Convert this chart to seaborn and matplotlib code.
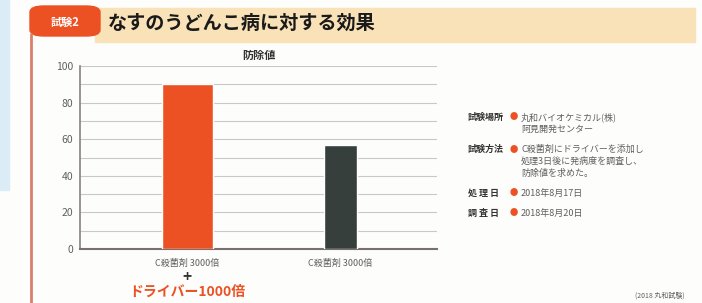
import matplotlib.pyplot as plt
import matplotlib.patches as mpatches
import matplotlib.transforms as mtransforms
import seaborn as sns
import pandas as pd

# data
treatments = ["C殺菌剤 3000倍 + ドライバー1000倍", "C殺菌剤 3000倍"]
tick_labels = ["C殺菌剤 3000倍", "C殺菌剤 3000倍"]
control_values = [90, 57]
y_ticks = [0, 20, 40, 60, 80, 100]

info_keys = ["試験場所", "試験方法", "処 理 日", "調 査 日"]
info_values = [
    ["丸和バイオケミカル(株)", "阿見開発センター"],
    ["C殺菌剤にドライバーを添加し", "処理3日後に発病度を調査し、", "防除値を求めた。"],
    ["2018年8月17日"],
    ["2018年8月20日"],
]

ORANGE = "#ec5124"
DARK = "#373f3d"
GRAY = "#5f5f5f"

sns.set_style("white")
plt.rcParams["font.family"] = ["Noto Sans CJK JP", "DejaVu Sans"]

df = pd.DataFrame({"treatment": treatments, "value": control_values})

fig = plt.figure(figsize=(7.02, 3.03), dpi=100)
fig.patch.set_facecolor("#fdfdfb")

# page decorations: blue strip, title band, orange tab and rule
W, H = 702, 303
def px(x, y, w, h):
    return (x / W, 1 - (y + h) / H), w / W, h / H

xy, w, h = px(0, 0, 9, 190)
fig.patches.append(mpatches.Rectangle(xy, w, h, transform=fig.transFigure,
                                      color="#dcecf6", zorder=0))
xy, w, h = px(95, 8, 600, 34)
fig.patches.append(mpatches.Rectangle(xy, w, h, transform=fig.transFigure,
                                      color="#f9e2b8", zorder=0))
xy, w, h = px(30, 6, 70, 30)
fig.patches.append(mpatches.FancyBboxPatch(xy, w, h, transform=fig.transFigure,
                                           boxstyle="round,pad=0,rounding_size=0.02",
                                           color=ORANGE, zorder=1))
fig.add_artist(plt.Line2D([31 / W, 31 / W], [0, 1 - 34 / H], transform=fig.transFigure,
                          color="#d9806a", lw=2))

fig.text(65 / W, 1 - 22 / H, "試験2", color="white", fontsize=8, fontweight="bold",
         ha="center", va="center")
fig.text(108 / W, 1 - 23 / H, "なすのうどんこ病に対する効果", color="#1a1a1a",
         fontsize=13.8, fontweight="bold", ha="left", va="center")

# bar chart
ax = fig.add_axes([80 / W, 1 - 249 / H, 357 / W, 183 / H])
ax.set_facecolor("none")
sns.barplot(data=df, x="treatment", y="value", hue="treatment",
            palette=[ORANGE, DARK], width=0.33, saturation=1, legend=False,
            ax=ax, zorder=3)
# the untreated bar is drawn narrower in the original
bar = ax.patches[1]
cx = bar.get_x() + bar.get_width() / 2
bar.set_width(0.22)
bar.set_x(cx - 0.11)

ax.set_xlim(-0.70, 1.63)
ax.set_ylim(0, 100)
ax.set_yticks(y_ticks)
ax.set_yticks(range(0, 101, 10), minor=True)
ax.grid(axis="y", which="both", color="#c8c8c8", lw=0.8, zorder=0)
ax.tick_params(axis="y", which="both", length=0, labelsize=7.5, labelcolor=GRAY, pad=5)
ax.set_xticks([0, 1])
ax.set_xticklabels(tick_labels, fontsize=6.5, color=GRAY)
ax.tick_params(axis="x", length=0, pad=7)
ax.set_xlabel("")
ax.set_ylabel("")
for side in ["top", "right"]:
    ax.spines[side].set_visible(False)
ax.spines["left"].set_color("#8a8080")
ax.spines["bottom"].set_color("#7a7070")
ax.spines["left"].set_linewidth(1.2)
ax.spines["bottom"].set_linewidth(1.5)

ax.set_title("防除値", fontsize=8, fontweight="bold", color="#333333", pad=5)

trans = mtransforms.blended_transform_factory(ax.transData, fig.transFigure)
ax.text(0, 1 - 277 / H, "+", transform=trans, ha="center", va="center",
        fontsize=11, fontweight="bold", color="#333333")
ax.text(0, 1 - 292 / H, "ドライバー1000倍", transform=trans, ha="center", va="center",
        fontsize=10, fontweight="bold", color=ORANGE)

# test conditions block
y = 117
for key, lines in zip(info_keys, info_values):
    fig.text(468 / W, 1 - y / H, key, fontsize=6.5, fontweight="bold",
             color="#333333", va="center")
    fig.text(510 / W, 1 - y / H, "●", fontsize=6, color=ORANGE, va="center")
    for i, line in enumerate(lines):
        fig.text(521 / W, 1 - (y + i * 12) / H, line, fontsize=6.5,
                 color=GRAY, va="center")
    y += len(lines) * 12 + 8

fig.text(685 / W, 1 - 296 / H, "(2018 丸和試験)", fontsize=5, color=GRAY,
         ha="right", va="center")

fig.savefig("out.png", dpi=100, facecolor=fig.get_facecolor())
